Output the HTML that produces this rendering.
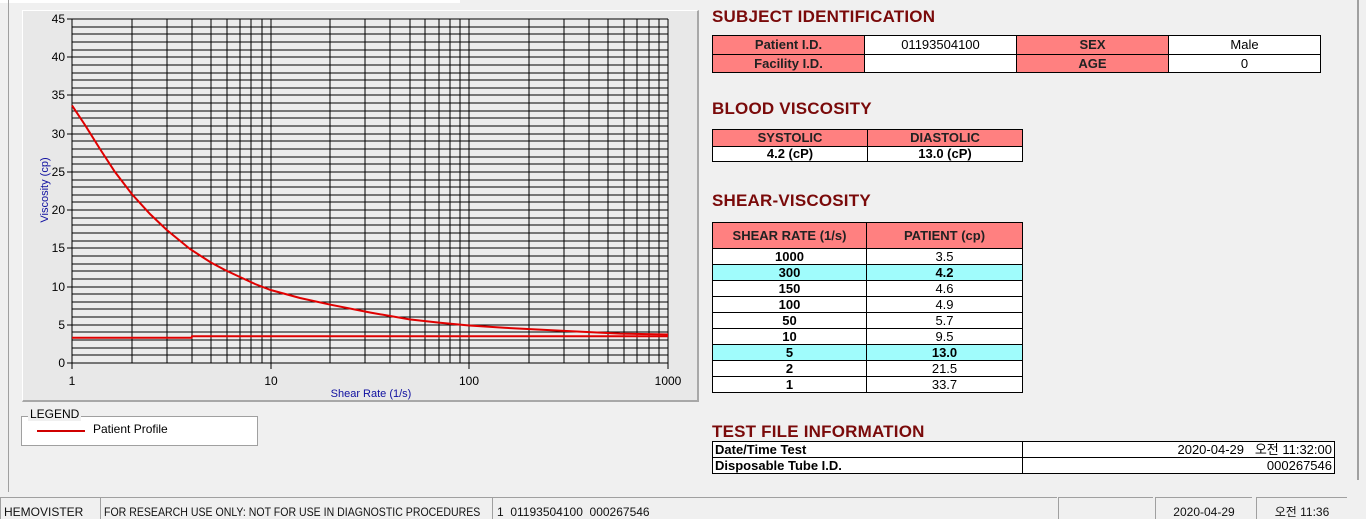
<!DOCTYPE html>
<html><head><meta charset="utf-8"><style>
body{margin:0;width:1366px;height:518px;background:#f0f0f0;position:relative;overflow:hidden;font-family:"Liberation Sans","Noto Sans CJK KR",sans-serif}
.a{position:absolute}
.h{position:absolute;left:712px;font:bold 17px "Liberation Sans",sans-serif;color:#7a0a0a;letter-spacing:0.2px}
.t{position:absolute;border-top:1px solid #000;border-left:1px solid #000;font-size:13px}
.r{display:flex}
.r>div{border-right:1px solid #000;border-bottom:1px solid #000;text-align:center;box-sizing:border-box;overflow:hidden;white-space:nowrap}
.p{background:#ff8080;font-weight:bold;color:#222}
.c{background:#a0fcfc;font-weight:bold}
.w{background:#fff}
.sb{position:absolute;top:497px;height:21px;border-top:1px solid #a0a0a0;border-left:1px solid #a0a0a0;font-size:12px;line-height:28px;color:#111;white-space:nowrap;overflow:hidden}
</style></head><body>
<div class="a" style="left:0;top:0;width:460px;height:3px;background:#fff"></div>
<div class="a" style="left:8px;top:0;width:1px;height:492px;background:#a0a0a0"></div>
<div class="a" style="left:1357px;top:0;width:2px;height:480px;background:#a0a0a0"></div>
<div class="a" style="left:22px;top:10px;width:674px;height:389px;background:#e8e8e8;border-right:2px solid #a8a8a8;border-bottom:2px solid #a8a8a8;border-top:1px solid #fff;border-left:1px solid #fff"></div>
<svg class="a" style="left:0;top:0" width="700" height="405">
<rect x="72" y="19" width="596" height="344" fill="#ececec"/>
<g id="g" stroke="#000" stroke-width="1" shape-rendering="crispEdges"></g>
<g font-size="12" fill="#000" text-anchor="end" font-family="Liberation Sans,sans-serif" id="yl"></g>
<g font-size="12" fill="#000" text-anchor="middle" font-family="Liberation Sans,sans-serif">
<text x="72" y="385">1</text><text x="271" y="385">10</text><text x="469" y="385">100</text><text x="668" y="385">1000</text>
<text x="371" y="397" fill="#1010a0" font-size="11">Shear Rate (1/s)</text>
</g>
<text transform="translate(48,190) rotate(-90)" text-anchor="middle" font-size="11" fill="#1010a0" font-family="Liberation Sans,sans-serif">Viscosity (cp)</text>
<polyline fill="none" stroke="#e00000" stroke-width="2" points="72,337.8 191.6,337.8 192,336.2 668,336.2"/>
<polyline fill="none" stroke="#e00000" stroke-width="2" points="72,105.4 85,125 100,149 115,172 131.8,194 150,214 166.8,230 190,249 210.9,262.5 225,270 239.9,277 255,284 270.7,290 300,298 330.5,304.7 370,312.5 409.5,319.4 440,322.8 469.3,325.5 504.3,327.8 564.1,330.9 620,333.6 668,334.5"/>
</svg>
<script>
var g=document.getElementById('g'),yl=document.getElementById('yl'),ns='http://www.w3.org/2000/svg';
function L(x1,y1,x2,y2){var l=document.createElementNS(ns,'line');l.setAttribute('x1',x1);l.setAttribute('y1',y1);l.setAttribute('x2',x2);l.setAttribute('y2',y2);g.appendChild(l);}
for(var i=0;i<=45;i++){var y=Math.round(19+344*i/45);L(72,y,668,y);if(i%5==0){L(67,y,72,y);var t=document.createElementNS(ns,'text');t.setAttribute('x',65);t.setAttribute('y',y+4);t.textContent=45-i;yl.appendChild(t);}}
for(var d=0;d<3;d++)for(var k=1;k<10;k++){var x=Math.round(72+198.67*(d+Math.log10(k)));L(x,19,x,363);}
L(668,19,668,363);
[72,271,469,668].forEach(function(x){L(x,363,x,369);});
</script>
<div class="a" style="left:21px;top:416px;width:235px;height:28px;border:1px solid #a0a0a0;background:#fff"></div>
<div class="a" style="left:28px;top:407px;background:#f0f0f0;font-size:12px;padding:0 2px">LEGEND</div>
<div class="a" style="left:37px;top:430px;width:48px;height:2px;background:#d00000"></div>
<div class="a" style="left:93px;top:422px;font-size:12px">Patient Profile</div>

<div class="h" style="top:7px">SUBJECT IDENTIFICATION</div>
<div class="t" style="left:712px;top:35px">
<div class="r" style="height:19px;line-height:18px"><div class="p" style="width:152px">Patient I.D.</div><div class="w" style="width:152px">01193504100</div><div class="p" style="width:152px">SEX</div><div class="w" style="width:152px">Male</div></div>
<div class="r" style="height:18px;line-height:17px"><div class="p" style="width:152px">Facility I.D.</div><div class="w" style="width:152px"></div><div class="p" style="width:152px">AGE</div><div class="w" style="width:152px">0</div></div>
</div>
<div class="h" style="top:99px">BLOOD VISCOSITY</div>
<div class="t" style="left:712px;top:129px;font-weight:bold">
<div class="r" style="height:17px;line-height:16px"><div class="p" style="width:155px">SYSTOLIC</div><div class="p" style="width:155px">DIASTOLIC</div></div>
<div class="r" style="height:15px;line-height:14px"><div class="w" style="width:155px">4.2 (cP)</div><div class="w" style="width:155px">13.0 (cP)</div></div>
</div>
<div class="h" style="top:191px">SHEAR-VISCOSITY</div>
<div class="t" style="left:712px;top:222px">
<div class="r" style="height:26px;line-height:25px"><div class="p" style="width:154px">SHEAR RATE (1/s)</div><div class="p" style="width:156px">PATIENT (cp)</div></div>
<div class="r" style="height:16px;line-height:15px"><div class="w" style="width:154px;font-weight:bold">1000</div><div class="w" style="width:156px">3.5</div></div>
<div class="r" style="height:16px;line-height:15px"><div class="c" style="width:154px">300</div><div class="c" style="width:156px">4.2</div></div>
<div class="r" style="height:16px;line-height:15px"><div class="w" style="width:154px;font-weight:bold">150</div><div class="w" style="width:156px">4.6</div></div>
<div class="r" style="height:16px;line-height:15px"><div class="w" style="width:154px;font-weight:bold">100</div><div class="w" style="width:156px">4.9</div></div>
<div class="r" style="height:16px;line-height:15px"><div class="w" style="width:154px;font-weight:bold">50</div><div class="w" style="width:156px">5.7</div></div>
<div class="r" style="height:16px;line-height:15px"><div class="w" style="width:154px;font-weight:bold">10</div><div class="w" style="width:156px">9.5</div></div>
<div class="r" style="height:16px;line-height:15px"><div class="c" style="width:154px">5</div><div class="c" style="width:156px">13.0</div></div>
<div class="r" style="height:16px;line-height:15px"><div class="w" style="width:154px;font-weight:bold">2</div><div class="w" style="width:156px">21.5</div></div>
<div class="r" style="height:16px;line-height:15px"><div class="w" style="width:154px;font-weight:bold">1</div><div class="w" style="width:156px">33.7</div></div>
</div>
<div class="h" style="top:422px">TEST FILE INFORMATION</div>
<div class="t" style="left:712px;top:441px">
<div class="r" style="height:16px;line-height:15px"><div class="w" style="width:310px;text-align:left;font-weight:bold;padding-left:2px">Date/Time Test</div><div class="w" style="width:312px;text-align:right;padding-right:2px">2020-04-29 &nbsp; 오전 11:32:00</div></div>
<div class="r" style="height:16px;line-height:15px"><div class="w" style="width:310px;text-align:left;font-weight:bold;padding-left:2px">Disposable Tube I.D.</div><div class="w" style="width:312px;text-align:right;padding-right:2px">000267546</div></div>
</div>

<div class="sb" style="left:0;width:96px;padding-left:3px">HEMOVISTER</div>
<div class="sb" style="left:100px;width:388px;padding-left:3px"><span style="display:inline-block;transform:scaleX(0.88);transform-origin:0 0">FOR RESEARCH USE ONLY: NOT FOR USE IN DIAGNOSTIC PROCEDURES</span></div>
<div class="sb" style="left:492px;width:560px;padding-left:4px">1 &nbsp;01193504100 &nbsp;000267546</div>
<div class="sb" style="left:1058px;width:94px"></div>
<div class="sb" style="left:1155px;width:96px;text-align:center">2020-04-29</div>
<div class="sb" style="left:1256px;width:90px;text-align:center">오전 11:36</div>
</body></html>
